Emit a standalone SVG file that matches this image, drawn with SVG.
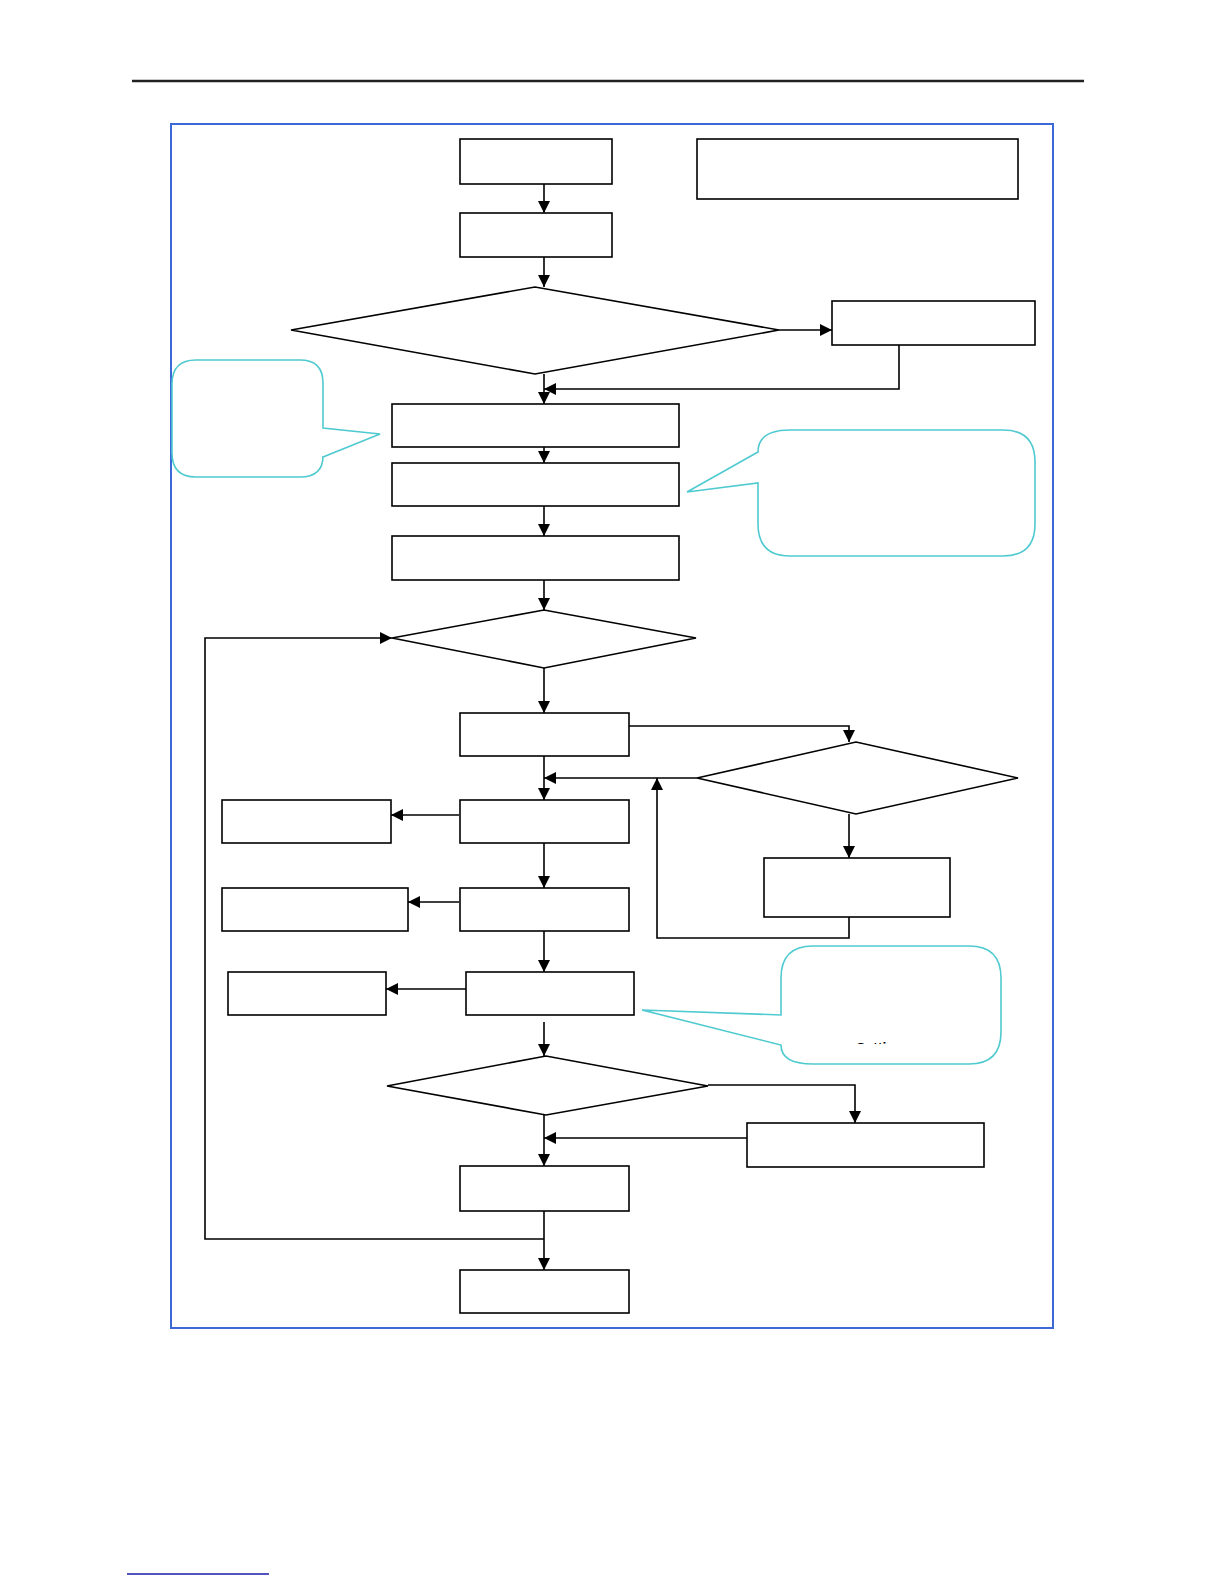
<svg xmlns="http://www.w3.org/2000/svg" width="1224" height="1584" viewBox="0 0 1224 1584">
<defs>
<style>
.n{fill:#fff;stroke:#000;stroke-width:1.6}
.c{fill:none;stroke:#000;stroke-width:1.6}
.a{marker-end:url(#ah)}
.co{fill:#fff;stroke:#4fcad0;stroke-width:1.6}
.t{font-family:"Liberation Sans",Arial,sans-serif;font-size:14px;font-weight:bold;fill:#000}
</style>
<marker id="ah" markerUnits="userSpaceOnUse" markerWidth="12" markerHeight="14" viewBox="0 0 12 14" refX="12" refY="7" orient="auto">
<path d="M0,1 L12,7 L0,13 z" fill="#000"/>
</marker>
<clipPath id="clipS"><rect x="781" y="946" width="220" height="98"/></clipPath>
</defs>
<rect width="1224" height="1584" fill="#fff"/>
<line x1="132" y1="81" x2="1084" y2="81" stroke="#222" stroke-width="2.5"/>
<rect x="171" y="124" width="882" height="1204" fill="none" stroke="#3c68d8" stroke-width="2"/>
<line x1="127" y1="1574" x2="269" y2="1574" stroke="#1a1aaa" stroke-width="1.5"/>

<g id="connectors">
<path class="c a" d="M544,184 V213"/>
<path class="c a" d="M544,257 V287"/>
<path class="c a" d="M544,374 V404"/>
<path class="c a" d="M779,330 H832" stroke-width="2.5"/>
<path class="c a" d="M899,345 V389 H544" stroke-width="2"/>
<path class="c a" d="M544,447 V463"/>
<path class="c a" d="M544,506 V536"/>
<path class="c a" d="M544,580 V610"/>
<path class="c a" d="M544,668 V713"/>
<path class="c a" d="M544,1239 H205 V638 H392" stroke-width="2"/>
<path class="c a" d="M544,756 V800"/>
<path class="c a" d="M629,726 H849 V742" stroke-width="2"/>
<path class="c a" d="M697,778 H544" stroke-width="2"/>
<path class="c a" d="M849,814 V858" stroke-width="2"/>
<path class="c a" d="M849,917 V938 H657 V778"/>
<path class="c a" d="M459,815 H391" stroke-width="2.5"/>
<path class="c a" d="M544,843 V888"/>
<path class="c a" d="M459,902 H408" stroke-width="2"/>
<path class="c a" d="M544,931 V972"/>
<path class="c a" d="M466,989 H386" stroke-width="2"/>
<path class="c a" d="M544,1022 V1056"/>
<path class="c a" d="M708,1085 H855 V1123"/>
<path class="c a" d="M747,1138 H544" stroke-width="2.5"/>
<path class="c a" d="M544,1108 V1166"/>
<path class="c a" d="M544,1211 V1270"/>
</g>

<g id="node-start"><rect class="n" x="460" y="139" width="152" height="45" stroke-width="2"/></g>
<g id="node-note"><rect class="n" x="697" y="139" width="321" height="60" stroke-width="2"/></g>
<g id="node-b"><rect class="n" x="460" y="213" width="152" height="44"/></g>
<g id="node-d1"><polygon class="n" points="291,330 535,287 779,330 535,374"/></g>
<g id="node-r1"><rect class="n" x="832" y="301" width="203" height="44"/></g>
<g id="node-c"><rect class="n" x="392" y="404" width="287" height="43"/></g>
<g id="node-d"><rect class="n" x="392" y="463" width="287" height="43" stroke-width="2.2"/></g>
<g id="node-e"><rect class="n" x="392" y="536" width="287" height="44"/></g>
<g id="node-d2"><polygon class="n" points="392,638 544,610 696,638 544,668"/></g>
<g id="node-f"><rect class="n" x="460" y="713" width="169" height="43"/></g>
<g id="node-d3"><polygon class="n" points="697,778 856,742 1018,778 856,814"/></g>
<g id="node-g"><rect class="n" x="460" y="800" width="169" height="43"/></g>
<g id="node-l1"><rect class="n" x="222" y="800" width="169" height="43"/></g>
<g id="node-h"><rect class="n" x="460" y="888" width="169" height="43"/></g>
<g id="node-l2"><rect class="n" x="222" y="888" width="186" height="43"/></g>
<g id="node-i"><rect class="n" x="764" y="858" width="186" height="59" stroke-width="2"/></g>
<g id="node-j"><rect class="n" x="466" y="972" width="168" height="43" stroke-width="2"/></g>
<g id="node-l3"><rect class="n" x="228" y="972" width="158" height="43" stroke-width="2"/></g>
<g id="node-d4"><polygon class="n" points="387,1086 546,1056 708,1086 546,1115"/></g>
<g id="node-k"><rect class="n" x="747" y="1123" width="237" height="44"/></g>
<g id="node-l"><rect class="n" x="460" y="1166" width="169" height="45"/></g>
<g id="node-m"><rect class="n" x="460" y="1270" width="169" height="43" stroke-width="2"/></g>

<g id="callout-left">
<path class="co" d="M196,360 H300 Q323,360 323,383 V428 L380,434 L323,457 V456 Q323,477 300,477 H196 Q172,477 172,453 V384 Q172,360 196,360 Z"/>
</g>
<g id="callout-right1">
<path class="co" d="M790,430 H1003 Q1035,430 1035,462 V524 Q1035,556 1003,556 H790 Q758,556 758,524 V483 L687,492 L758,452 Q758,430 790,430 Z"/>
</g>
<g id="callout-right2">
<path class="co" d="M813,946 H969 Q1001,946 1001,978 V1032 Q1001,1064 969,1064 H813 Q781,1064 781,1045 L642,1010 L781,1015 V978 Q781,946 813,946 Z"/>
<text class="t" x="856" y="1052.5" clip-path="url(#clipS)">Setting</text>
</g>
</svg>
